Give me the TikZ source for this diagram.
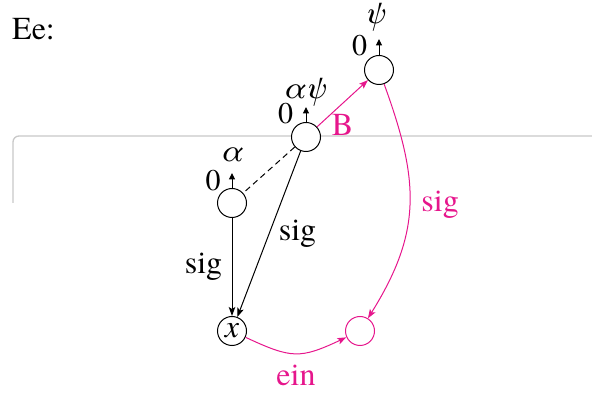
\documentclass[tikz,border=0pt]{standalone}
\usepackage{fontspec}
\newfontfamily\tm{TeX Gyre Termes}
\usetikzlibrary{arrows.meta}
\definecolor{pk}{RGB}{230,22,140}
\definecolor{boxgray}{RGB}{200,200,200}
\begin{document}
\begin{tikzpicture}[x=1pt,y=1pt,
  st/.style={circle,draw,fill=white,minimum size=29pt,inner sep=0pt,line width=1pt},
  big/.style={font=\tm\fontsize{32}{38}\selectfont},
  zero/.style={font=\tm\fontsize{30}{36}\selectfont,inner sep=0pt},
  lbl/.style={font=\tm\fontsize{31}{37}\selectfont,inner sep=0pt},
  arr/.style={-{Stealth[length=9pt,width=6.5pt,inset=2pt]},line width=1pt},
  uparr/.style={-{Triangle[length=6.5pt,width=6pt]},line width=1pt}]
\useasboundingbox (0,0) rectangle (592,396);
% partial grey frame
\draw[boxgray,line width=1.3pt,rounded corners=6pt] (13,193) -- (13,260) -- (592,260);
\node[big,anchor=base west,inner sep=0pt] (title) at (12,356.5) {Ee:};
% states
\node[st] (a) at (232,193) {};
\node[st] (ap) at (306,259) {};
\node[st] (p) at (379,326) {};
\node[st,big] (x) at (232,65) {\textit{x}};
\node[st,draw=pk] (q) at (360,65) {};
% small output arrows with 0 and labels
\coordinate (at) at (232,223);
\coordinate (apt) at (306,289);
\coordinate (pt) at (379,357);
\draw[uparr] (a.north) -- (at);
\draw[uparr] (ap.north) -- (apt);
\draw[uparr] (p.north) -- (pt);
\node[zero] (a0) at (213,215) {0};
\node[zero] (ap0) at (285.5,282) {0};
\node[zero] (p0) at (359.5,350) {0};
\node[lbl] (al) at (232,241.5) {\textit{α}};
\node[lbl] (apl) at (305,304) {\textit{αψ}};
\node[lbl] (pl) at (375,378.5) {\textit{ψ}};
% edges
\draw[arr] (a) -- node[big,left=6pt] (l1) {sig} (x);
\draw[arr] (ap) -- node[big,right=6pt] (l2) {sig} (x);
\draw[line width=1pt,dash pattern=on 6pt off 4pt] (ap) -- (a);
\draw[arr,pk] (ap) -- node[big,below=7pt] (l3) {B} (p);
\draw[arr,pk] (p) to[out=-70,in=58,looseness=1.12] node[big,right=8pt] (l4) {sig} (q);
\draw[arr,pk] (x) to[out=-25,in=-155,looseness=1.3] node[big,below=8pt] (l5) {ein} (q);
\end{tikzpicture}
\end{document}
